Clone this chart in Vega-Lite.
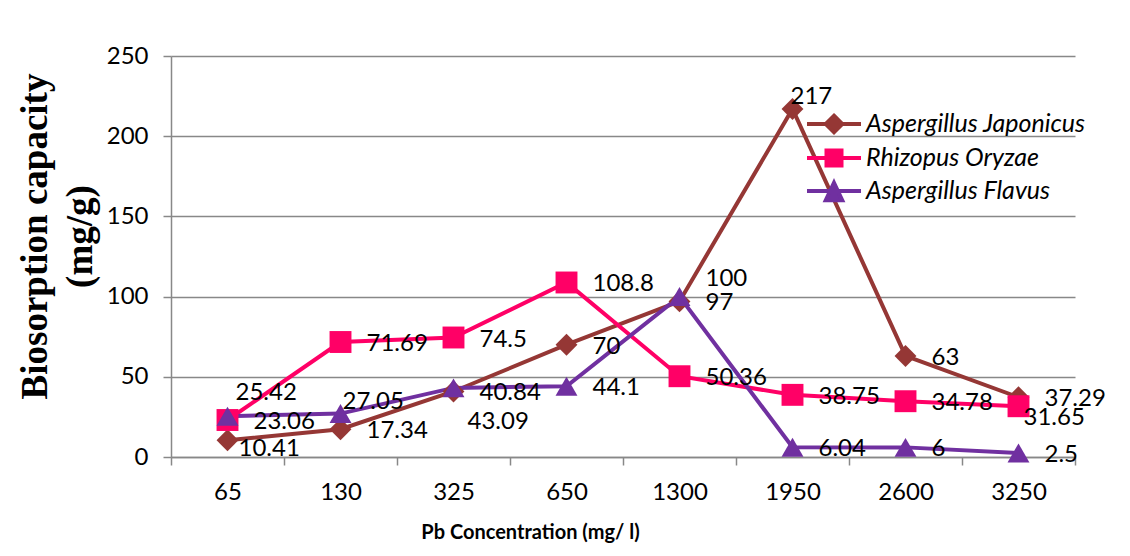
{
  "$schema": "https://vega.github.io/schema/vega-lite/v6.json",
  "width": 904,
  "height": 401,
  "autosize": "none",
  "padding": {"left": 171, "top": 56, "right": 55, "bottom": 99},
  "background": "white",
  "config": {"view": {"stroke": null}, "font": "Lato", "text": {"align": "left", "baseline": "middle", "fontSize": 24, "font": "Lato", "color": "black"}},
  "data": {
    "values": [
      {"conc": "65", "series": "Aspergillus Japonicus", "value": 10.41},
      {"conc": "130", "series": "Aspergillus Japonicus", "value": 17.34},
      {"conc": "325", "series": "Aspergillus Japonicus", "value": 40.84},
      {"conc": "650", "series": "Aspergillus Japonicus", "value": 70},
      {"conc": "1300", "series": "Aspergillus Japonicus", "value": 97},
      {"conc": "1950", "series": "Aspergillus Japonicus", "value": 217},
      {"conc": "2600", "series": "Aspergillus Japonicus", "value": 63},
      {"conc": "3250", "series": "Aspergillus Japonicus", "value": 37.29},
      {"conc": "65", "series": "Rhizopus Oryzae", "value": 23.06},
      {"conc": "130", "series": "Rhizopus Oryzae", "value": 71.69},
      {"conc": "325", "series": "Rhizopus Oryzae", "value": 74.5},
      {"conc": "650", "series": "Rhizopus Oryzae", "value": 108.8},
      {"conc": "1300", "series": "Rhizopus Oryzae", "value": 50.36},
      {"conc": "1950", "series": "Rhizopus Oryzae", "value": 38.75},
      {"conc": "2600", "series": "Rhizopus Oryzae", "value": 34.78},
      {"conc": "3250", "series": "Rhizopus Oryzae", "value": 31.65},
      {"conc": "65", "series": "Aspergillus Flavus", "value": 25.42},
      {"conc": "130", "series": "Aspergillus Flavus", "value": 27.05},
      {"conc": "325", "series": "Aspergillus Flavus", "value": 43.09},
      {"conc": "650", "series": "Aspergillus Flavus", "value": 44.1},
      {"conc": "1300", "series": "Aspergillus Flavus", "value": 100},
      {"conc": "1950", "series": "Aspergillus Flavus", "value": 6.04},
      {"conc": "2600", "series": "Aspergillus Flavus", "value": 6},
      {"conc": "3250", "series": "Aspergillus Flavus", "value": 2.5}
    ]
  },
  "encoding": {
    "x": {
      "field": "conc",
      "type": "ordinal",
      "sort": ["65", "130", "325", "650", "1300", "1950", "2600", "3250"],
      "scale": {"type": "band", "paddingInner": 0, "paddingOuter": 0},
      "axis": {
        "title": "Pb Concentration (mg/ l)",
        "titleFont": "Lato",
        "titleFontSize": 20,
        "titleFontWeight": "bold",
        "titleColor": "black",
        "titleX": 359,
        "titleY": 75,
        "titleBaseline": "middle",
        "labelAngle": 0,
        "labelFontSize": 24,
        "labelColor": "black",
        "labelPadding": 15,
        "tickBand": "extent",
        "tickSize": 8,
        "tickColor": "#888888",
        "tickWidth": 1.5,
        "domainColor": "#888888",
        "domainWidth": 1.5,
        "grid": false
      }
    },
    "y": {
      "field": "value",
      "type": "quantitative",
      "scale": {"domain": [0, 250], "nice": false},
      "axis": {
        "title": ["Biosorption capacity", "(mg/g)"],
        "titleFont": "Liberation Serif",
        "titleFontSize": 37,
        "titleFontWeight": "bold",
        "titleColor": "black",
        "titleLineHeight": 45,
        "titleAngle": -90,
        "titleX": -117,
        "titleY": 180,
        "titleAlign": "center",
        "titleBaseline": "bottom",
        "values": [0, 50, 100, 150, 200, 250],
        "labelFontSize": 24,
        "labelColor": "black",
        "labelPadding": 15,
        "tickSize": 8,
        "tickColor": "#888888",
        "tickWidth": 1.5,
        "domainColor": "#888888",
        "domainWidth": 1.5,
        "grid": true,
        "gridColor": "#888888",
        "gridWidth": 1.5
      }
    }
  },
  "layer": [
    {
      "mark": {"type": "line", "strokeWidth": 4},
      "encoding": {
        "color": {
          "field": "series",
          "type": "nominal",
          "scale": {"domain": ["Aspergillus Japonicus", "Rhizopus Oryzae", "Aspergillus Flavus"], "range": ["#953735", "#FF0066", "#7030A0"]},
          "legend": null
        }
      }
    },
    {
      "mark": {"type": "point", "filled": true, "size": 480, "opacity": 1},
      "encoding": {
        "color": {
          "field": "series",
          "type": "nominal",
          "scale": {"domain": ["Aspergillus Japonicus", "Rhizopus Oryzae", "Aspergillus Flavus"], "range": ["#953735", "#FF0066", "#7030A0"]},
          "legend": null
        },
        "shape": {
          "field": "series",
          "type": "nominal",
          "scale": {"domain": ["Aspergillus Japonicus", "Rhizopus Oryzae", "Aspergillus Flavus"], "range": ["diamond", "square", "triangle-up"]},
          "legend": null
        }
      }
    },
    {
      "transform": [{"filter": "indexof(['Aspergillus Japonicus|65','Aspergillus Flavus|65','Aspergillus Flavus|130','Aspergillus Flavus|325','Aspergillus Japonicus|1950','Aspergillus Flavus|1300','Rhizopus Oryzae|3250'], datum.series + '|' + datum.conc) < 0"}],
      "mark": {"type": "text", "dx": 26, "dy": 2},
      "encoding": {"text": {"field": "value", "type": "nominal"}}
    },
    {
      "transform": [{"filter": "datum.series == 'Aspergillus Japonicus' && datum.conc == '65'"}],
      "mark": {"type": "text", "dx": 11, "dy": 9},
      "encoding": {"text": {"field": "value", "type": "nominal"}}
    },
    {
      "transform": [{"filter": "datum.series == 'Aspergillus Flavus' && datum.conc == '65'"}],
      "mark": {"type": "text", "dx": 8, "dy": -23},
      "encoding": {"text": {"field": "value", "type": "nominal"}}
    },
    {
      "transform": [{"filter": "datum.series == 'Aspergillus Flavus' && datum.conc == '130'"}],
      "mark": {"type": "text", "dx": 2, "dy": -12},
      "encoding": {"text": {"field": "value", "type": "nominal"}}
    },
    {
      "transform": [{"filter": "datum.series == 'Aspergillus Flavus' && datum.conc == '325'"}],
      "mark": {"type": "text", "dx": 14, "dy": 34},
      "encoding": {"text": {"field": "value", "type": "nominal"}}
    },
    {
      "transform": [{"filter": "datum.series == 'Aspergillus Japonicus' && datum.conc == '1950'"}],
      "mark": {"type": "text", "dx": -2, "dy": -12},
      "encoding": {"text": {"field": "value", "type": "nominal"}}
    },
    {
      "transform": [{"filter": "datum.series == 'Aspergillus Flavus' && datum.conc == '1300'"}],
      "mark": {"type": "text", "dx": 26, "dy": -18},
      "encoding": {"text": {"field": "value", "type": "nominal"}}
    },
    {
      "transform": [{"filter": "datum.series == 'Rhizopus Oryzae' && datum.conc == '3250'"}],
      "mark": {"type": "text", "dx": 5, "dy": 12},
      "encoding": {"text": {"field": "value", "type": "nominal"}}
    },
    {
      "mark": {"type": "point", "filled": true, "opacity": 0},
      "encoding": {
        "fill": {
          "field": "series",
          "type": "nominal",
          "scale": {"domain": ["Aspergillus Japonicus", "Rhizopus Oryzae", "Aspergillus Flavus"], "range": ["#953735", "#FF0066", "#7030A0"]},
          "legend": {
            "title": null,
            "orient": "none",
            "legendX": 646,
            "legendY": 51,
            "padding": 0,
            "symbolSize": 900,
            "symbolStrokeWidth": 4,
            "symbolOpacity": 1,
            "labelFont": "Lato",
            "labelFontSize": 25,
            "labelFontStyle": "italic",
            "labelColor": "black",
            "labelOffset": 15,
            "rowPadding": 0,
            "labelLimit": 400
          }
        },
        "stroke": {
          "field": "series",
          "type": "nominal",
          "scale": {"domain": ["Aspergillus Japonicus", "Rhizopus Oryzae", "Aspergillus Flavus"], "range": ["#953735", "#FF0066", "#7030A0"]},
          "legend": {
            "title": null,
            "orient": "none",
            "legendX": 646,
            "legendY": 51,
            "padding": 0,
            "symbolSize": 900,
            "symbolStrokeWidth": 4,
            "symbolOpacity": 1,
            "labelFont": "Lato",
            "labelFontSize": 25,
            "labelFontStyle": "italic",
            "labelColor": "black",
            "labelOffset": 15,
            "rowPadding": 0,
            "labelLimit": 400
          }
        },
        "shape": {
          "field": "series",
          "type": "nominal",
          "scale": {
            "domain": ["Aspergillus Japonicus", "Rhizopus Oryzae", "Aspergillus Flavus"],
            "range": [
              "M-1.8,0H1.8M0,-0.55L0.55,0L0,0.55L-0.55,0Z",
              "M-1.8,0H1.8M-0.5,-0.5H0.5V0.5H-0.5Z",
              "M-1.8,0H1.8M0,-0.55L0.55,0.62L-0.55,0.62Z"
            ]
          },
          "legend": {
            "title": null,
            "orient": "none",
            "legendX": 646,
            "legendY": 51,
            "padding": 0,
            "symbolSize": 900,
            "symbolStrokeWidth": 4,
            "symbolOpacity": 1,
            "labelFont": "Lato",
            "labelFontSize": 25,
            "labelFontStyle": "italic",
            "labelColor": "black",
            "labelOffset": 15,
            "rowPadding": 0,
            "labelLimit": 400
          }
        }
      }
    }
  ],
  "resolve": {"scale": {"shape": "independent", "fill": "independent", "stroke": "independent"}}
}
